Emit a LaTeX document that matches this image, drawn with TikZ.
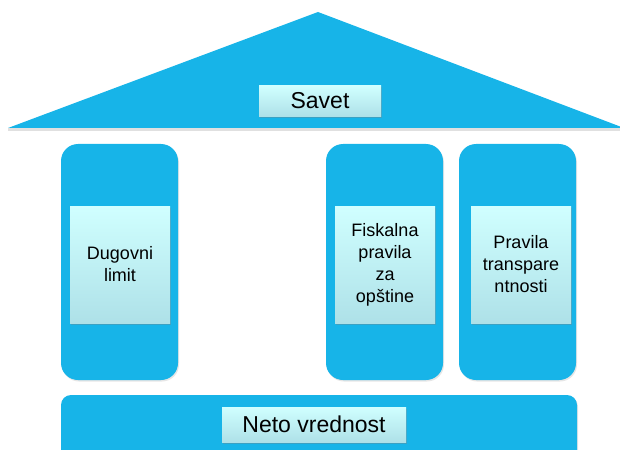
\documentclass[tikz,border=0pt]{standalone}
\usepackage{fontspec}
\setmainfont{Liberation Sans}
\usetikzlibrary{shadows}
\definecolor{houseblue}{RGB}{23,180,232}
\definecolor{platetop}{RGB}{208,255,255}
\definecolor{platebot}{RGB}{174,225,232}
\begin{document}
\begin{tikzpicture}[x=1pt,y=-1pt,line join=round,
	pillar/.style={fill=houseblue,rounded corners=17pt,inner sep=0pt,drop shadow={opacity=0.2,shadow xshift=1pt,shadow yshift=-1.5pt}},
	plate/.style={top color=platetop,bottom color=platebot,inner sep=0pt,align=center,text=black,drop shadow={opacity=0.35,shadow xshift=1pt,shadow yshift=-1.5pt}},
	small/.style={font=\fontsize{18}{22}\selectfont},
	big/.style={font=\fontsize{23}{26}\selectfont}]
			\clip (0,0) rectangle (620,449);
			\useasboundingbox (0,0) rectangle (620,449);
			\coordinate (L) at (8,128);
			\coordinate (T) at (318,12);
			\coordinate (R) at (624,128);
			\fill[black,opacity=0.12] (8,128) rectangle (624,131);
			\fill[houseblue] (L) -- (T) -- (R) -- cycle;
			\node[plate,big,minimum width=122,minimum height=31] (savet) at (320,101) {Savet};
			\node[pillar,minimum width=117,minimum height=236] (p1) at (119.5,262) {};
			\node[pillar,minimum width=117,minimum height=236] (p2) at (384.5,262) {};
			\node[pillar,minimum width=117,minimum height=236] (p3) at (517.5,262) {};
			\node[plate,small,minimum width=100,minimum height=117] (dug) at (120,264.5) {Dugovni\\limit};
			\node[plate,small,minimum width=100,minimum height=117] (fisk) at (385,264.5) {Fiskalna\\pravila\\za\\opštine};
			\node[plate,small,minimum width=100,minimum height=117] (transp) at (521,264.5) {Pravila\\transpare\\ntnosti};
			\node[pillar,rounded corners=10pt,minimum width=516,minimum height=76] (base) at (319,433) {};
			\node[plate,big,minimum width=184,minimum height=35] (neto) at (314,424.5) {Neto vrednost};
		\end{tikzpicture}
\end{document}
